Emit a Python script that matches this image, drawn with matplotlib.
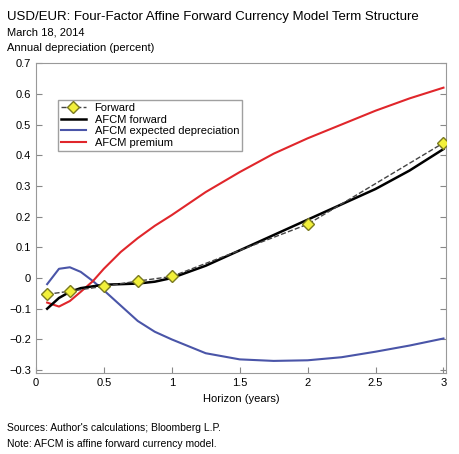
import matplotlib
matplotlib.use("Agg")
import matplotlib.pyplot as plt

fwd_x = [0.083, 0.25, 0.5, 0.75, 1.0, 2.0, 3.0]
fwd_y = [-0.053, -0.043, -0.027, -0.01, 0.005, 0.175, 0.44]
hx = [0.083, 0.17, 0.25, 0.33, 0.42, 0.5, 0.625, 0.75, 0.875, 1.0, 1.25, 1.5, 1.75, 2.0, 2.25, 2.5, 2.75, 3.0]
afcm_fwd = [-0.10, -0.065, -0.045, -0.033, -0.027, -0.022, -0.020, -0.018, -0.012, 0.0, 0.04, 0.09, 0.14, 0.19, 0.24, 0.29, 0.35, 0.42]
afcm_exp = [-0.02, 0.03, 0.035, 0.02, -0.01, -0.04, -0.09, -0.14, -0.175, -0.20, -0.245, -0.265, -0.27, -0.268, -0.258, -0.24, -0.22, -0.197]
afcm_prem = [-0.08, -0.093, -0.075, -0.045, -0.01, 0.03, 0.085, 0.13, 0.17, 0.205, 0.28, 0.345, 0.405, 0.455, 0.50, 0.545, 0.585, 0.62]

plt.rcParams['font.family'] = ['Liberation Sans', 'DejaVu Sans']
fig = plt.figure(figsize=(4.6, 4.54), dpi=100)
ax = fig.add_axes([0.078, 0.178, 0.892, 0.683])
ax.plot(fwd_x, fwd_y, color='#444444', ls='--', lw=1, marker='D', ms=6,
        mfc='#f2f03a', mec='#7a7a20', label='Forward', zorder=4)
ax.plot(hx, afcm_fwd, color='black', lw=1.8, label='AFCM forward', zorder=3)
ax.plot(hx, afcm_exp, color='#4a55a8', lw=1.5, label='AFCM expected depreciation')
ax.plot(hx, afcm_prem, color='#e0262b', lw=1.5, label='AFCM premium')
ax.set_xlim(0, 3.02)
ax.set_ylim(-0.31, 0.7)
ax.set_xticks([0, 0.5, 1, 1.5, 2, 2.5, 3])
ax.set_xticklabels(['0', '0.5', '1', '1.5', '2', '2.5', '3'])
ax.set_yticks([-0.3, -0.2, -0.1, 0, 0.1, 0.2, 0.3, 0.4, 0.5, 0.6, 0.7])
ax.set_yticklabels(['\u22120.3', '\u22120.2', '\u22120.1', '0', '0.1', '0.2', '0.3', '0.4', '0.5', '0.6', '0.7'])
ax.tick_params(direction='in', right=True, labelsize=8, length=4, color='#888888')
for s in ax.spines.values():
    s.set_color('#999999')
ax.set_xlabel('Horizon (years)', fontsize=8)
leg = ax.legend(loc='upper left', bbox_to_anchor=(0.04, 0.9), fontsize=8, frameon=True,
                fancybox=False, edgecolor='#888888', handlelength=2.2,
                borderpad=0.3, labelspacing=0.15)
fig.text(0.015, 0.975, 'USD/EUR: Four-Factor Affine Forward Currency Model Term Structure',
         fontsize=9.5, va='top')
fig.text(0.015, 0.94, 'March 18, 2014', fontsize=8, va='top')
fig.text(0.015, 0.905, 'Annual depreciation (percent)', fontsize=8, va='top')
fig.text(0.015, 0.05, "Sources: Author's calculations; Bloomberg L.P.", fontsize=7.5)
fig.text(0.015, 0.015, 'Note: AFCM is affine forward currency model.', fontsize=7.5)
fig.savefig('out.png', dpi=100)
